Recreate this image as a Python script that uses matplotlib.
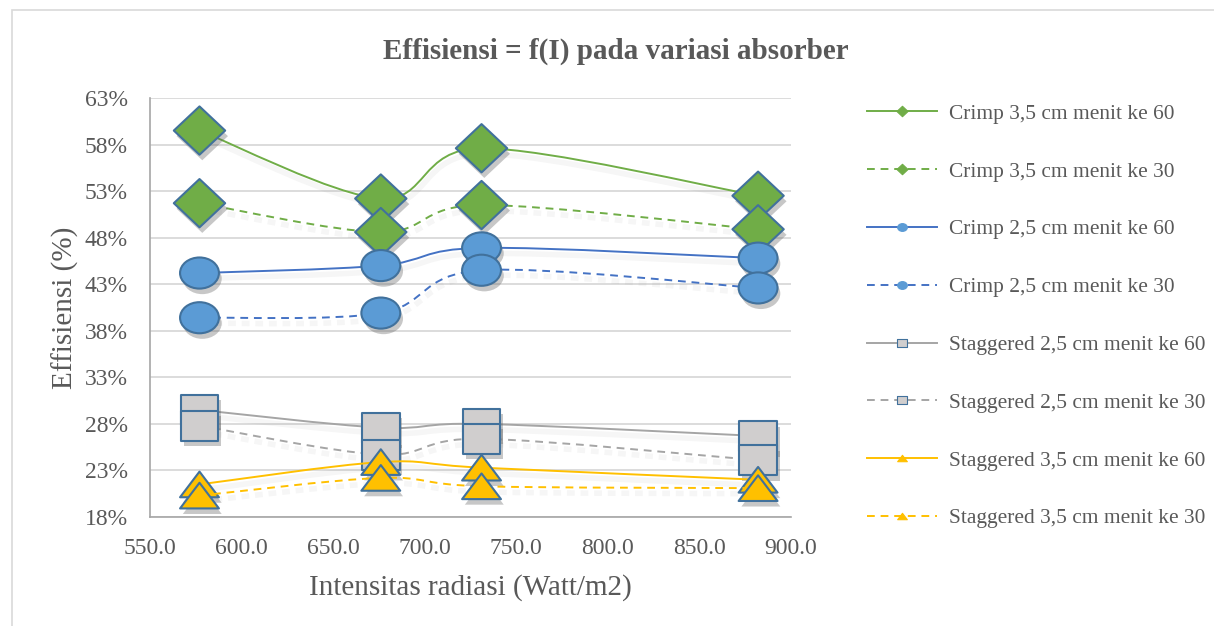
import numpy as np
import matplotlib.pyplot as plt
from matplotlib.path import Path
from matplotlib.patches import PathPatch, Rectangle
from matplotlib.lines import Line2D
import matplotlib.patheffects as pe

# intensitas radiasi (Watt/m2)
intensity = [577, 676, 731, 882]

crimp35_60 = [59.5, 52.2, 57.6, 52.5]
crimp35_30 = [51.7, 48.6, 51.5, 48.9]
crimp25_60 = [44.2, 45.0, 46.9, 45.8]
crimp25_30 = [39.4, 39.9, 44.5, 42.6]
stag25_60 = [29.5, 27.6, 28.0, 26.7]
stag25_30 = [27.8, 24.7, 26.4, 24.1]
stag35_60 = [21.5, 23.9, 23.3, 22.0]
stag35_30 = [20.3, 22.2, 21.3, 21.1]

labels = ["Crimp 3,5 cm menit ke 60", "Crimp 3,5 cm menit ke 30",
          "Crimp 2,5 cm menit ke 60", "Crimp 2,5 cm menit ke 30",
          "Staggered 2,5 cm menit ke 60", "Staggered 2,5 cm menit ke 30",
          "Staggered 3,5 cm menit ke 60", "Staggered 3,5 cm menit ke 30"]

plt.rcParams['font.family'] = ['Liberation Serif', 'DejaVu Serif']
TXT = '#595959'
EDGE = '#41719C'


def shape(verts):
    verts = list(verts) + [verts[0]]
    codes = [Path.MOVETO] + [Path.LINETO] * (len(verts) - 2) + [Path.CLOSEPOLY]
    return Path(verts, codes)


diamond = shape([(0, 0.47), (0.5, 0), (0, -0.47), (-0.5, 0)])
ellipse = Path(Path.unit_circle().vertices * [1.0, 0.8], Path.unit_circle().codes)
square = shape([(-0.5, -0.4), (0.5, -0.4), (0.5, 0.4), (-0.5, 0.4)])
triangle = shape([(-0.5, -0.33), (0.5, -0.33), (0, 0.33)])

series = [
    (crimp35_60, '#70AD47', '#70AD47', '-', diamond, 37),
    (crimp35_30, '#70AD47', '#70AD47', '--', diamond, 37),
    (crimp25_60, '#4472C4', '#5B9BD5', '-', ellipse, 28),
    (crimp25_30, '#4472C4', '#5B9BD5', '--', ellipse, 28),
    (stag25_60, '#A5A5A5', '#D0CECE', '-', square, 27),
    (stag25_30, '#A5A5A5', '#D0CECE', '--', square, 27),
    (stag35_60, '#FFC000', '#FFC000', '-', triangle, 28),
    (stag35_30, '#FFC000', '#FFC000', '--', triangle, 28),
]


def smooth_path(x, y):
    # Excel-style smoothed line: bezier segments with catmull-rom handles
    p = np.column_stack([x, y]).astype(float)
    pts = np.vstack([p[0], p, p[-1]])
    verts = [p[0]]
    codes = [Path.MOVETO]
    for i in range(1, len(pts) - 2):
        c1 = pts[i] + (pts[i + 1] - pts[i - 1]) / 6
        c2 = pts[i + 1] - (pts[i + 2] - pts[i]) / 6
        verts += [c1, c2, pts[i + 1]]
        codes += [Path.CURVE4] * 3
    return Path(verts, codes)


fig = plt.figure(figsize=(12.14, 6.26), dpi=100)
fig.patches.append(Rectangle((0.0099, -0.01), 1.0, 0.9946, transform=fig.transFigure,
                             fill=False, edgecolor='#D9D9D9', linewidth=1.2))
ax = fig.add_axes([0.1236, 0.1741, 0.528, 0.6694])

handles = []
for k, (vals, lc, fc, ls, mk, ms) in enumerate(series):
    z = 3 + k * 2
    dash = (0, (4, 3)) if ls == '--' else '-'
    patch = PathPatch(smooth_path(intensity, vals), fill=False, edgecolor=lc,
                      linewidth=1.4, linestyle=dash, zorder=z,
                      path_effects=[pe.SimpleLineShadow(offset=(1, -4), shadow_color='#808080',
                                                        alpha=0.07, linewidth=4),
                                    pe.Normal()])
    ax.add_patch(patch)
    ax.plot(intensity, vals, linestyle='none', marker=mk, markersize=ms,
            markerfacecolor=fc, markeredgecolor=EDGE, markeredgewidth=1.5,
            zorder=z + 1,
            path_effects=[pe.SimplePatchShadow(offset=(2, -4), shadow_rgbFace='#606060',
                                               alpha=0.35),
                          pe.Normal()])
    handles.append(Line2D([], [], color=lc, linestyle=dash, linewidth=1.4,
                          marker=mk, markersize=8 if mk is diamond else 7,
                          markerfacecolor=fc,
                          markeredgecolor=EDGE if mk is square else fc,
                          markeredgewidth=0.8))

ax.set_xlim(550, 900)
ax.set_ylim(18, 63)
ax.set_xticks(np.arange(550, 901, 50))
ax.set_yticks(np.arange(18, 64, 5))
ax.xaxis.set_major_formatter(plt.FuncFormatter(lambda v, p: f"{v:.1f}"))
ax.yaxis.set_major_formatter(plt.FuncFormatter(lambda v, p: f"{v:.0f}%"))
ax.tick_params(length=0, labelsize=17, labelcolor=TXT)
ax.tick_params(axis='x', pad=15)
ax.tick_params(axis='y', pad=16)
ax.grid(axis='y', color='#D9D9D9', linewidth=1.3)
ax.set_axisbelow(True)
for s in ['top', 'right']:
    ax.spines[s].set_visible(False)
for s in ['left', 'bottom']:
    ax.spines[s].set_color('#A6A6A6')
    ax.spines[s].set_linewidth(1.2)

ax.set_xlabel("Intensitas radiasi (Watt/m2)", fontsize=21, color=TXT, labelpad=11)
ax.set_ylabel("Effisiensi (%)", fontsize=21, color=TXT, labelpad=4)
fig.text(0.507, 0.918, "Effisiensi = f(I) pada variasi absorber", ha='center', va='center',
         fontsize=21, fontweight='bold', color=TXT)

leg = fig.legend(handles, labels, loc='upper left', bbox_to_anchor=(0.707, 0.848),
                 frameon=False, fontsize=15.4, labelcolor=TXT, handlelength=3.3,
                 handletextpad=0.55, labelspacing=1.77, borderaxespad=0)

fig.savefig('out.png', dpi=100)
